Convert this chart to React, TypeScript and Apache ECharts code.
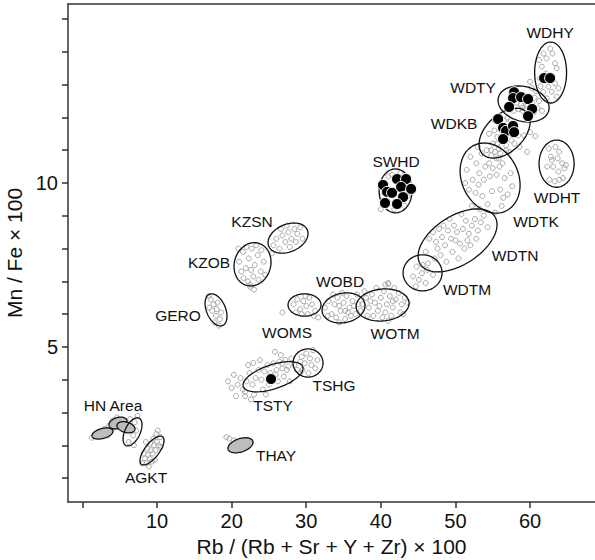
import React, { useEffect, useRef } from "react";
import * as echarts from "echarts";

// ---------- data (data units) ----------
const wdhyPts = [[61.8,13.95],[63.0,13.95],[62.2,13.8],[63.35,13.65],[61.57,13.55],[63.58,13.5],[62.15,13.34],[61.34,13.19],[63.35,13.04],[63.8,12.89],[62.45,12.94],[61.78,12.78],[62.9,12.78],[63.58,12.63],[62.24,12.58],[60.0,13.09],[62.7,14.1],[61.2,13.75]];
const wdtyPts = [[58.2,12.45],[58.8,12.38],[59.2,12.48],[59.6,12.35],[58.5,12.25],[59.0,12.2],[59.9,12.52],[60.3,12.42],[60.6,12.6],[61.0,12.3],[61.2,12.5],[57.8,12.2],[58.0,12.6],[60.0,12.1],[59.3,12.65],[60.8,12.8],[61.4,12.95],[60.2,12.9],[57.5,12.4],[61.6,12.2],[60.5,12.15],[58.9,12.3],[59.5,12.25],[60.1,12.35]];
const wdkbPts = [[55.2,11.6],[55.6,11.4],[56.0,11.8],[56.5,11.9],[57.0,12.0],[57.4,11.9],[55.0,11.2],[55.8,11.05],[56.2,11.3],[57.5,11.3],[58.0,11.7],[54.5,11.5],[55.3,11.9],[56.8,11.15],[57.2,10.95],[56.0,10.9],[54.8,11.0],[58.4,11.45],[59.2,11.45],[60.0,11.55],[58.6,11.1],[55.5,10.75],[60.7,11.43],[59.6,10.95],[56.6,11.5],[57.9,11.2]];
const wdtkPts = [[52.0,10.8],[52.8,10.6],[53.5,10.9],[54.2,11.0],[54.8,10.85],[55.3,10.95],[55.8,10.75],[56.3,10.6],[54.5,10.6],[55.0,10.45],[53.2,10.3],[52.3,10.1],[51.5,10.4],[53.8,10.1],[54.6,10.2],[55.5,10.25],[56.6,10.15],[57.4,10.3],[51.8,9.8],[52.7,9.7],[53.6,9.6],[54.9,9.75],[56.0,9.8],[57.0,9.65],[52.2,9.3],[53.3,9.2],[54.3,9.35],[55.3,9.1],[56.2,9.3],[57.6,9.9],[56.8,11.0],[55.6,11.2],[53.0,11.1],[51.3,10.0],[54.0,10.5],[55.9,10.5],[53.1,9.95],[56.4,9.55]];
const wdhtPts = [[62.5,11.05],[63.4,11.1],[63.9,10.95],[62.8,10.8],[63.7,10.75],[64.3,10.6],[64.6,10.45],[63.1,10.5],[62.3,10.5],[63.8,10.35],[64.8,10.55],[62.6,10.1],[63.3,10.05],[63.9,10.1],[64.4,10.15],[62.9,10.7]];
const wdtnPts = [[46.0,7.9],[46.5,8.3],[47.0,8.5],[47.4,8.2],[47.8,8.6],[48.2,8.35],[48.6,8.1],[49.0,8.55],[49.4,8.3],[49.8,8.7],[50.2,8.5],[50.6,8.15],[51.0,8.6],[51.4,8.85],[51.8,8.45],[52.2,8.7],[52.6,8.9],[53.0,8.55],[53.4,8.8],[53.8,9.0],[48.0,7.8],[48.8,7.6],[49.6,7.9],[50.4,7.7],[51.2,8.0],[52.0,8.1],[47.2,7.7],[46.3,7.55],[49.2,8.9],[50.8,9.05],[54.3,8.65],[52.8,8.3],[47.6,8.0],[48.4,8.7],[50.0,8.25],[51.6,8.25]];
const wdtmPts = [[44.8,7.45],[45.6,7.5],[46.2,7.35],[44.3,7.15],[45.1,7.05],[46.0,6.95],[45.5,7.25],[47.0,7.2],[44.7,6.85],[41.0,6.92]];
const swhdPts = [[41.0,10.2],[42.6,10.3],[40.2,9.6],[43.6,9.6],[41.8,9.2],[40.0,9.2],[43.2,9.3],[41.5,10.25]];
const wotmPts = [[37.5,6.3],[38.0,6.5],[38.4,6.2],[38.8,6.6],[39.2,6.35],[39.6,6.1],[40.0,6.5],[40.4,6.7],[40.8,6.3],[41.2,6.55],[41.6,6.2],[42.0,6.45],[42.4,6.65],[42.8,6.3],[43.2,6.5],[43.6,6.35],[39.0,5.95],[40.2,5.9],[41.4,5.95],[42.6,6.05],[38.2,5.95],[40.6,6.9],[39.4,6.8],[41.8,6.8],[37.8,6.7],[43.0,6.0],[41.0,5.8],[41.0,6.95],[39.8,6.25],[40.6,6.05],[41.6,6.4],[38.6,6.4]];
const wobdPts = [[32.5,6.2],[33.0,6.4],[33.4,6.0],[33.8,6.3],[34.2,6.5],[34.6,6.1],[35.0,6.35],[35.4,6.55],[35.8,6.2],[36.2,6.4],[36.6,6.0],[37.0,6.3],[34.0,5.9],[35.2,5.85],[36.0,5.95],[34.8,6.65],[33.6,6.6],[36.8,6.6],[32.9,5.95],[35.6,6.05],[34.4,5.75],[37.3,6.1],[34.4,6.25],[35.2,6.1],[36.4,6.25]];
const womsPts = [[28.3,6.3],[28.8,6.45],[29.2,6.15],[29.6,6.4],[30.0,6.25],[30.4,6.5],[30.8,6.3],[31.2,6.1],[29.4,6.0],[30.2,6.0],[28.6,6.05],[29.9,6.55],[31.0,5.95],[26.8,6.05],[31.6,5.9]];
const kzsnPts = [[25.6,8.1],[26.0,8.3],[26.4,8.0],[26.8,8.4],[27.2,8.2],[27.6,8.5],[28.0,8.3],[28.4,8.6],[28.8,8.45],[29.2,8.65],[26.6,8.6],[27.8,8.05],[28.6,8.2],[27.4,8.7],[29.5,8.3],[25.4,7.85]];
const kzobPts = [[21.0,7.6],[21.5,7.9],[21.9,7.4],[22.3,7.7],[22.7,8.0],[23.1,7.5],[23.5,7.8],[23.9,7.3],[24.3,7.6],[21.6,7.1],[22.2,7.0],[22.9,7.15],[23.6,7.05],[22.0,8.05],[23.3,8.1],[24.0,7.95],[21.3,7.3],[22.5,6.9],[23.0,6.75],[24.5,7.2],[20.9,8.0],[22.6,7.35],[22.5,6.83]];
const geroPts = [[17.2,6.45],[17.6,6.3],[18.0,6.15],[17.4,6.1],[17.9,5.95],[18.4,5.85],[18.1,6.35],[17.0,6.2],[18.6,6.05],[17.7,5.75],[16.9,6.55],[18.3,5.65]];
const tshgPts = [[29.4,4.7],[30.0,4.8],[30.5,4.65],[29.8,4.5],[30.7,4.45],[31.2,4.35],[29.5,4.3],[30.3,4.2],[31.5,4.6],[29.2,4.55],[30.9,4.9]];
const tstyPts = [[19.5,3.95],[20.0,3.75],[20.3,4.15],[20.8,3.85],[21.2,4.05],[21.5,3.7],[22.0,3.95],[22.4,4.2],[22.8,3.85],[23.2,4.05],[23.6,4.3],[24.0,4.0],[24.4,4.25],[24.8,4.45],[25.2,4.2],[25.6,4.5],[26.0,4.3],[26.4,4.55],[26.8,4.35],[27.2,4.6],[27.6,4.4],[28.0,4.65],[28.4,4.45],[28.8,4.3],[25.0,3.85],[26.2,3.95],[27.0,4.1],[24.2,3.7],[23.0,3.55],[21.8,3.5],[22.6,3.4],[26.6,4.75],[25.8,4.85],[23.8,4.6],[22.2,4.45],[20.6,3.5],[24.6,3.55],[29.2,4.2],[27.8,3.95],[25.4,4.0],[22.9,4.51],[21.8,3.63],[26.8,4.5],[27.4,4.3],[25.9,4.15]];
const thayPts = [[19.7,2.2],[20.3,2.15],[20.8,2.05],[21.3,2.1],[21.8,2.0],[20.6,1.9],[21.2,1.85],[22.0,2.15],[19.3,2.25],[20.0,2.0]];
const agktPts = [[8.0,1.45],[8.4,1.6],[8.8,1.7],[9.2,1.85],[9.6,2.0],[10.0,2.1],[10.4,2.25],[8.6,1.45],[9.0,1.6],[9.4,1.75],[9.8,1.85],[10.2,2.0],[8.2,1.75],[8.7,1.9],[9.1,2.05],[9.5,2.2],[9.9,2.35],[10.5,1.95],[8.9,1.35],[9.7,1.55],[10.1,2.45],[8.5,2.1],[9.3,1.5]];
const hnPts = [[1.25,2.23],[2.1,2.35],[2.8,2.4],[3.4,2.3],[3.0,2.5],[4.0,2.75],[4.6,2.85],[5.2,2.7],[5.8,2.6],[6.4,2.8],[7.0,2.7],[6.8,2.3],[7.2,2.45],[6.2,2.1],[6.9,2.0],[5.5,2.5],[4.3,2.55],[7.4,2.9],[3.6,2.6]];

// black (filled) samples
const blackPts = [[61.88,13.2],[62.68,13.2],[57.86,12.77],[57.72,12.59],[58.79,12.62],[59.73,12.56],[57.19,12.32],[60.27,12.26],[59.73,12.04],[55.71,11.95],[56.38,11.68],[56.78,11.59],[57.72,11.74],[57.86,11.55],[56.38,11.34],[40.29,9.94],[42.17,10.12],[43.38,10.12],[40.83,9.73],[41.5,9.7],[42.71,9.88],[44.05,9.82],[42.98,9.57],[40.56,9.39],[42.17,9.36],[25.28,4.02]];

// ellipses: centre, half-range in x and y, correlation
const ellCx = [62.75,59.13,56.58,54.64,63.55,50.28,45.59,41.97,40.23,35.0,29.77,27.56,22.8,17.91,30.24,25.55,21.19,9.33,2.69,4.77,5.84,6.72];
const ellCy = [13.37,12.41,11.52,10.15,10.59,8.25,7.26,9.76,6.28,6.19,6.28,8.32,7.52,6.13,4.51,4.09,2.0,1.84,2.36,2.68,2.55,2.41];
const ellSx = [2.14,3.42,3.42,4.02,2.35,5.29,2.61,2.21,3.55,2.88,2.21,2.68,2.48,1.47,2.01,4.02,1.68,1.61,1.41,1.21,1.21,1.27];
const ellSy = [0.93,0.55,0.76,1.07,0.72,0.96,0.55,0.67,0.49,0.46,0.34,0.46,0.66,0.49,0.43,0.46,0.23,0.44,0.17,0.18,0.17,0.43];
const ellRho = [0,-0.2,0.45,-0.2,0,0.5,0,0,0.1,0.15,0,0.3,0.1,-0.4,0,0.55,0.4,0.7,0.4,0.3,-0.3,0.5];
const ellFilled = [false,false,false,false,false,false,false,false,false,false,false,false,false,false,false,false,true,false,true,true,true,false];

// group labels
const labelNames = ["WDHY","WDTY","WDKB","SWHD","WDHT","WDTK","WDTN","WDTM","WOTM","WOMS","WOBD","TSHG","TSTY","THAY","AGKT","HN Area","GERO","KZOB","KZSN"];
const labelX = [62.68,52.36,49.81,42.04,63.62,60.8,57.99,51.55,41.91,27.43,34.53,33.73,25.55,25.95,8.53,4.1,12.81,16.97,22.73];
const labelY = [14.6,12.9,11.8,10.67,9.57,8.84,7.8,6.74,5.4,5.43,7.01,3.81,3.2,1.68,1.01,3.2,5.95,7.56,8.84];

const xTicks = [0, 10, 20, 30, 40, 50, 60];
const xTickLabels = [10, 20, 30, 40, 50, 60];
const yTicks = [1,2,3,4,5,6,7,8,9,10,11,12,13,14,15];
const yTickLabels = [5, 10];

const greyAll = [
  ...wdhyPts, ...wdtyPts, ...wdkbPts, ...wdtkPts, ...wdhtPts, ...wdtnPts, ...wdtmPts,
  ...swhdPts, ...wotmPts, ...wobdPts, ...womsPts, ...kzsnPts, ...kzobPts, ...geroPts,
  ...tshgPts, ...tstyPts, ...thayPts, ...agktPts, ...hnPts,
];

const FONT = "'Liberation Sans', Arial, Helvetica, sans-serif";
const AXIS_COLOR = "#333";

export default function App() {
  const ref = useRef<HTMLDivElement>(null);
  useEffect(() => {
    if (!ref.current) return;
    const chart = echarts.init(ref.current, null, { renderer: "svg" });
    const ellData = ellCx.map((cx, i) => [cx, ellCy[i], ellSx[i], ellSy[i], ellRho[i], ellFilled[i] ? 1 : 0]);
    const labData = labelX.map((x, i) => [x, labelY[i]]);
    const xMin = -1.93, xMax = 68.7, yMin = 0.27, yMax = 15.46;

    chart.setOption({
      animation: false,
      grid: { left: 68, right: 0, top: 4, bottom: 58, containLabel: false, outerBoundsMode: "none" },
      xAxis: [
        {
          type: "value", min: xMin, max: xMax, position: "bottom",
          axisLine: { show: true, onZero: false, lineStyle: { color: AXIS_COLOR, width: 1.5 } },
          axisTick: { show: true, inside: false, length: 6, customValues: xTicks, lineStyle: { color: AXIS_COLOR, width: 1.5 } },
          axisLabel: { customValues: xTickLabels, fontSize: 20, color: "#111", fontFamily: FONT, margin: 9 },
          splitLine: { show: false },
          name: "Rb / (Rb + Sr + Y + Zr) × 100", nameLocation: "middle", nameGap: 31,
          nameTextStyle: { fontSize: 21, color: "#111", fontFamily: FONT },
        },
        {
          type: "value", min: xMin, max: xMax, position: "top",
          axisLine: { show: true, onZero: false, lineStyle: { color: AXIS_COLOR, width: 1.5 } },
          axisTick: { show: false }, axisLabel: { show: false }, splitLine: { show: false },
        },
      ],
      yAxis: {
        type: "value", min: yMin, max: yMax,
        axisLine: { show: true, onZero: false, lineStyle: { color: AXIS_COLOR, width: 1.5 } },
        axisTick: { show: true, inside: false, length: 6, customValues: yTicks, lineStyle: { color: AXIS_COLOR, width: 1.5 } },
        axisLabel: { customValues: yTickLabels, fontSize: 20, color: "#111", fontFamily: FONT, margin: 10 },
        splitLine: { show: false },
        name: "Mn / Fe × 100", nameLocation: "middle", nameGap: 39, nameRotate: 90,
        nameTextStyle: { fontSize: 21, color: "#111", fontFamily: FONT },
      },
      series: [
        {
          type: "scatter", data: greyAll, symbol: "circle", symbolSize: 5,
          itemStyle: { color: "rgba(255,255,255,0)", borderColor: "#a8a8a8", borderWidth: 1, opacity: 1 },
          silent: true, z: 2,
        },
        {
          type: "custom", data: ellData, z: 3, silent: true,
          encode: { x: 0, y: 1 },
          renderItem: (params: any, api: any) => {
            const cx = api.value(0), cy = api.value(1), sx = api.value(2), sy = api.value(3), rho = api.value(4);
            const filled = api.value(5) === 1;
            const k = Math.sqrt(1 - rho * rho);
            const pts: number[][] = [];
            const n = 90;
            for (let i = 0; i < n; i++) {
              const t = (i / n) * Math.PI * 2;
              const c = Math.cos(t), s = Math.sin(t);
              pts.push(api.coord([cx + sx * c, cy + sy * (rho * c + k * s)]));
            }
            return {
              type: "polygon",
              shape: { points: pts },
              style: { fill: filled ? "#bdbdbd" : "none", stroke: "#111", lineWidth: 1.3 },
            };
          },
        },
        {
          type: "scatter", data: blackPts, symbol: "circle", symbolSize: 11,
          itemStyle: { color: "#000", borderColor: "#fff", borderWidth: 1, opacity: 1 },
          silent: true, z: 4,
        },
        {
          type: "custom", data: labData, z: 5, silent: true,
          encode: { x: 0, y: 1 },
          renderItem: (params: any, api: any) => {
            const p = api.coord([api.value(0), api.value(1)]);
            return {
              type: "text", x: p[0], y: p[1],
              style: {
                text: labelNames[params.dataIndex], fontSize: 15.5, fontFamily: FONT,
                fill: "#111", align: "center", verticalAlign: "middle",
              },
            };
          },
        },
      ],
    });
    return () => chart.dispose();
  }, []);
  return <div ref={ref} style={{ position: "absolute", left: 0, top: 0, width: 595, height: 560 }} />;
}
